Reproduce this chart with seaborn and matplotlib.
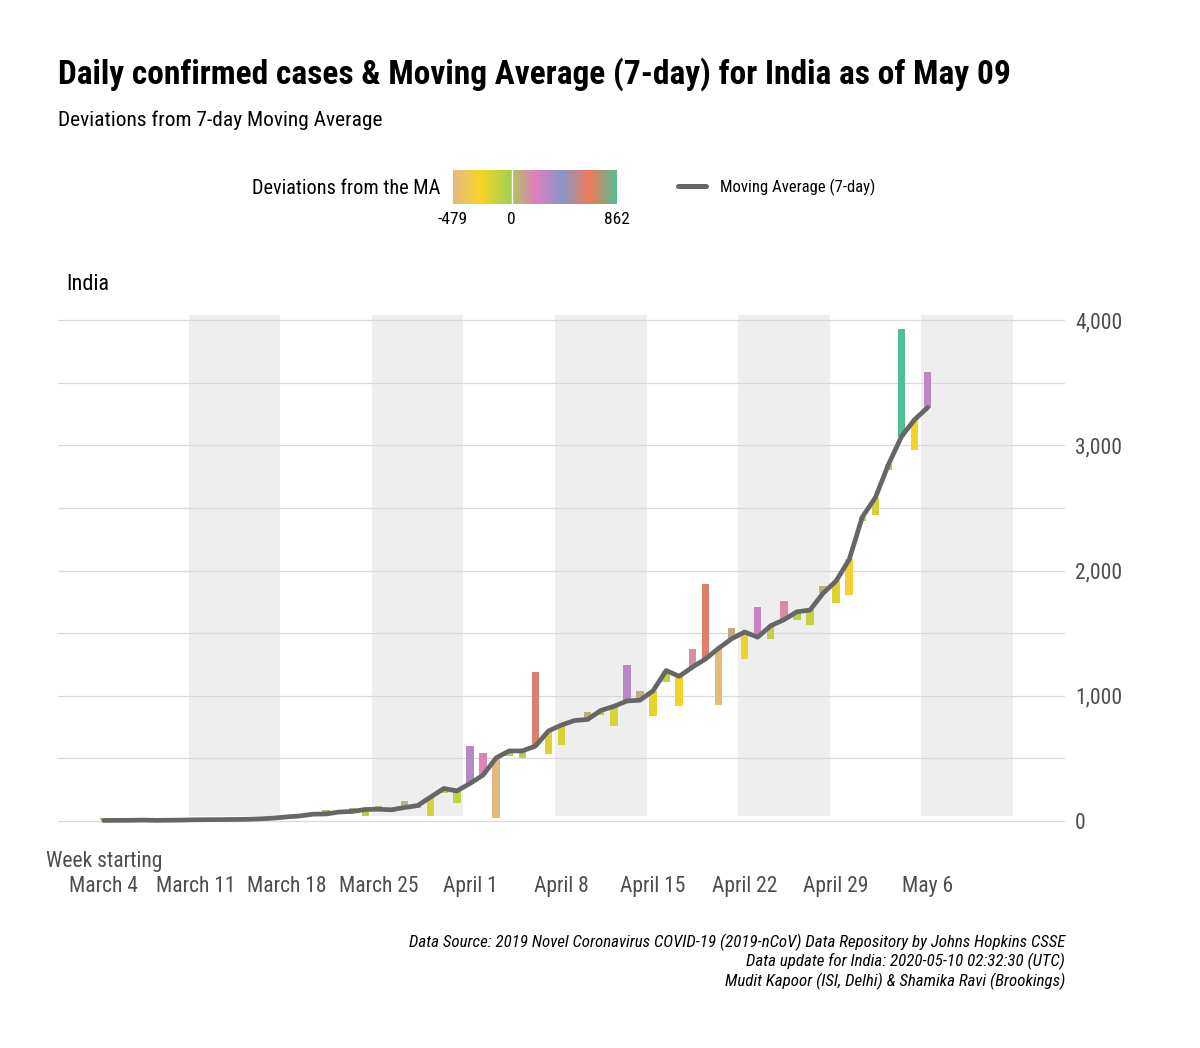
import pandas as pd
import matplotlib
matplotlib.use("Agg")
import matplotlib.pyplot as plt
import matplotlib.dates as mdates
from matplotlib import font_manager
from matplotlib.colors import LinearSegmentedColormap, Normalize
from matplotlib.cm import ScalarMappable
from matplotlib.lines import Line2D
import seaborn as sns

# daily confirmed cases for India, Mar 4 - May 6 2020
daily = [23, 2, 1, 3, 5, 4, 13, 6, 11, 9, 20, 11, 6, 23,
         14, 38, 50, 86, 66, 103, 37, 121, 70, 160, 100, 37, 227, 146,
         601, 545, 24, 515, 506, 1190, 533, 605, 809, 873, 848, 759, 1248, 1034,
         835, 1108, 922, 1370, 1893, 924, 1541, 1290, 1707, 1453, 1753, 1607, 1561, 1873,
         1738, 1801, 2394, 2442, 2806, 3932, 2963, 3587]

# 7-day moving average (centred)
ma7 = [4.4, 5.1, 5.4, 7.3, 4.9, 6.1, 7.3, 9.7, 10.6, 10.9, 12.3, 13.4, 17.3, 23.1,
       32.6, 40.4, 54.3, 56.3, 71.6, 76.1, 91.9, 93.9, 89.7, 107.4, 123.0, 191.6, 259.4, 240.0,
       299.3, 366.3, 503.9, 559.1, 559.7, 597.4, 718.7, 766.3, 802.4, 810.7, 882.3, 915.1, 957.9, 964.9,
       1039.4, 1201.4, 1155.1, 1227.6, 1292.6, 1378.1, 1454.0, 1508.7, 1467.9, 1558.9, 1606.3, 1670.3, 1683.7, 1818.1,
       1916.6, 2087.9, 2426.6, 2582.3, 2846.4, 3069.7, 3205.4, 3301.3]

start_date = "2020-03-04"
week_ticks = ["2020-03-04", "2020-03-11", "2020-03-18", "2020-03-25", "2020-04-01",
              "2020-04-08", "2020-04-15", "2020-04-22", "2020-04-29", "2020-05-06"]
week_labels = ["Week starting\nMarch 4", "March 11", "March 18", "March 25", "April 1",
               "April 8", "April 15", "April 22", "April 29", "May 6"]
shaded_weeks = ["2020-03-11", "2020-03-25", "2020-04-08", "2020-04-22", "2020-05-06"]
y_ticks = [0, 1000, 2000, 3000, 4000]
cbar_ticks = [-479, 0, 862]
cbar_labels = ["-479", "0", "862"]
# Set2-like palette, reversed (tan -> teal)
dev_colors = ["#E2BA80", "#F8D327", "#A8D24A", "#E07FBE", "#8596C8", "#F07A58", "#52BE94"]

df = pd.DataFrame({"date": pd.date_range(start_date, periods=len(daily)),
                   "daily": daily, "ma": ma7})
df["dev"] = df["daily"] - df["ma"]

sns.set_theme(style="white")
# a narrow sans close to the original condensed face
installed = {f.name for f in font_manager.fontManager.ttflist}
choice = [n for n in ["Roboto Condensed", "PT Sans Narrow", "Archivo Narrow"] if n in installed]
plt.rcParams["font.family"] = choice[:1] + ["DejaVu Sans"]
plt.rcParams["text.color"] = "black"

W, H = 1200, 1048
def fx(px): return px / W
def fy(px): return 1 - px / H

fig = plt.figure(figsize=(12, 10.48), dpi=100)
ax = fig.add_axes([fx(58), fy(828.5), (1065 - 58) / W, (828.5 - 312.5) / H])

cmap = LinearSegmentedColormap.from_list("dev", dev_colors)
norm = Normalize(cbar_ticks[0], cbar_ticks[-1])

#Shaded alternate weeks
for w in shaded_weeks:
    s = mdates.date2num(pd.Timestamp(w))
    ax.fill_between([s - 0.5, s + 6.5], 40, 4040, color="#EEEEEE", lw=0, zorder=0)

for v in range(0, 4001, 500):
    ax.axhline(v, color="#DADADA", lw=0.9, zorder=0.5)

#Deviation bars from MA to daily value
ax.bar(df["date"], df["dev"], bottom=df["ma"], width=0.57,
       color=cmap(norm(df["dev"].clip(cbar_ticks[0], cbar_ticks[-1]))), lw=0, zorder=2)

#Moving average line
sns.lineplot(data=df, x="date", y="ma", ax=ax, color="#666666", lw=3.4,
             zorder=3, legend=False, solid_joinstyle="round")

base = mdates.date2num(pd.Timestamp(start_date))
ax.set_xlim(base - 3.5, base + 73.5)
ax.set_ylim(-60, 4060)
for sp in ax.spines.values():
    sp.set_visible(False)
ax.set_xlabel("")
ax.set_ylabel("")

ax.yaxis.tick_right()
ax.set_yticks(y_ticks)
ax.set_yticklabels([f"{t:,}" for t in y_ticks])
ax.tick_params(axis="y", length=0, pad=7.2, labelsize=15.5, labelcolor="#4D4D4D")

ax.set_xticks(mdates.date2num(pd.to_datetime(week_ticks)))
ax.set_xticklabels(week_labels)
ax.tick_params(axis="x", length=0, pad=49, labelsize=15.5, labelcolor="#4D4D4D")
for lab in ax.get_xticklabels():
    lab.set_va("bottom")
    lab.set_multialignment("center")

#Titles
fig.text(fx(58), fy(84), "Daily confirmed cases & Moving Average (7-day) for India as of May 09",
         fontsize=24, fontweight="bold", va="baseline")
fig.text(fx(58), fy(126), "Deviations from 7-day Moving Average", fontsize=15.4, va="baseline")
fig.text(fx(66), fy(284), "India", fontsize=16, va="center")

#Colour legend
fig.text(fx(440), fy(188), "Deviations from the MA", fontsize=14.6, ha="right", va="center")
cax = fig.add_axes([fx(453), fy(204), 164 / W, 34 / H])
cb = fig.colorbar(ScalarMappable(norm=norm, cmap=cmap), cax=cax, orientation="horizontal",
                  ticks=cbar_ticks)
cb.outline.set_visible(False)
cb.set_ticklabels(cbar_labels)
cax.tick_params(length=0, pad=6, labelsize=12.5, labelcolor="black")
cax.axvline(0, color="white", lw=1)

fig.legend(handles=[Line2D([0], [0], color="#666666", lw=3.6)], labels=["Moving Average (7-day)"],
           loc="center left", bbox_to_anchor=(fx(678), fy(187)), frameon=False, fontsize=12.0,
           handlelength=1.68, handletextpad=0.84, borderpad=0, borderaxespad=0)

#Caption
caption = ["Data Source: 2019 Novel Coronavirus COVID-19 (2019-nCoV) Data Repository by Johns Hopkins CSSE",
           "Data update for India: 2020-05-10 02:32:30 (UTC)",
           "Mudit Kapoor (ISI, Delhi) & Shamika Ravi (Brookings)"]
for line, ypx in zip(caption, [942, 961, 981]):
    fig.text(fx(1065), fy(ypx), line, fontsize=12.2, style="italic", ha="right", va="center")

fig.savefig("out.png", dpi=100)
